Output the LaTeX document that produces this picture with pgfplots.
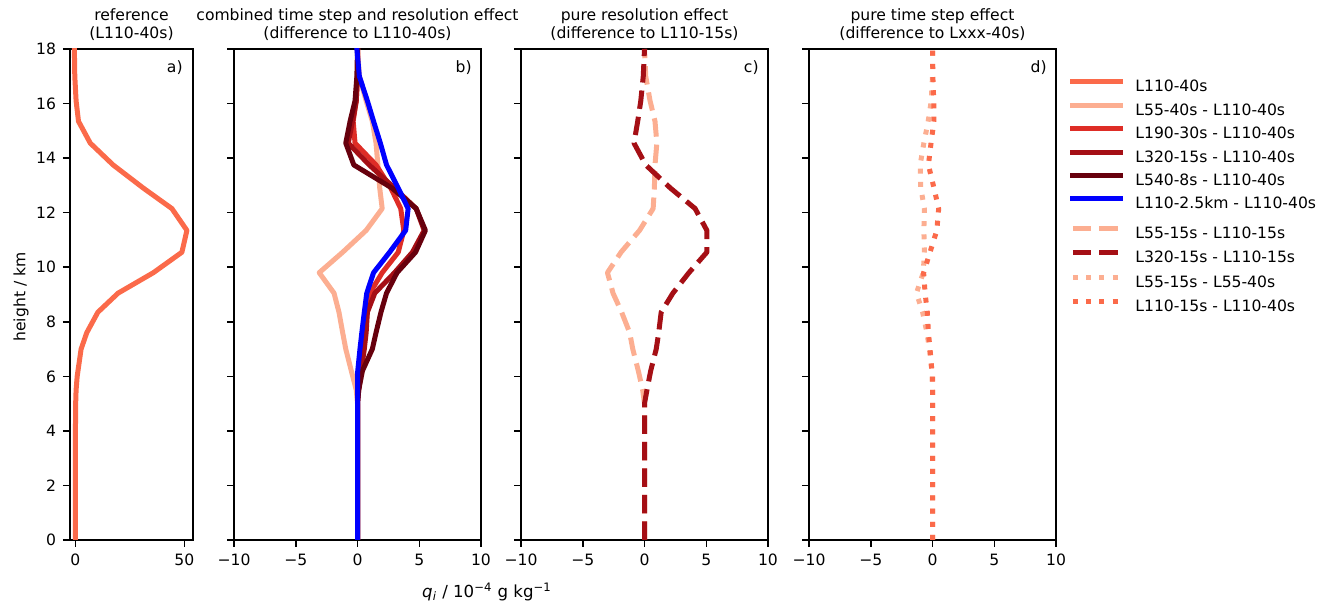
\documentclass[border=0pt]{standalone}
\usepackage{fontspec}
\setmainfont{DejaVu Sans}
\usepackage{pgfplots}
\pgfplotsset{compat=1.18}
\definecolor{cA}{HTML}{FB6A4A}
\definecolor{cB}{HTML}{FCAE91}
\definecolor{cC}{HTML}{DE2D26}
\definecolor{cD}{HTML}{A50F15}
\definecolor{cE}{HTML}{67000D}
\newcommand{\ff}{\fontsize{7.8pt}{9pt}\selectfont}
\pgfplotsset{
  panel/.style={
    scale only axis, height=245.5pt, ymin=0, ymax=18, ytick={0,2,...,18},
    anchor=south west,
    tick align=outside, tick pos=left, major tick length=3.5pt,
    every tick/.style={black, line width=0.75pt},
    axis line style={line width=0.75pt},
    tick label style={font=\ff},
    /pgf/number format/assume math mode=true,
    title style={font=\ff, align=center, at={(0.5,1)}, anchor=south, yshift=-1.75pt, inner sep=0pt},
    legend style={draw=none, fill=none, font=\ff, anchor=north west, inner sep=0pt,
      nodes={inner sep=0pt}, row sep=3.95pt, column sep=6pt},
    legend cell align=left,
    legend image code/.code={\draw[##1] (1.25pt,2.85pt) -- (25.25pt,2.85pt);},
  },
  diff/.style={panel, width=123.5pt, xmin=-10, xmax=10, xtick={-10,-5,0,5,10},
    xticklabels={−10,−5,0,5,10}, yticklabels={}},
  sol/.style={line width=2.5pt, line join=round, line cap=rect},
  dsh/.style={line width=2.5pt, line join=round, line cap=butt, dash pattern=on 9.25pt off 4pt},
  dot/.style={line width=2.5pt, line join=round, line cap=butt, dash pattern=on 2.5pt off 4.1pt},
}
\begin{document}
\begin{tikzpicture}
\useasboundingbox (0,0) rectangle (667.5pt,302.5pt);

% panel a
\begin{axis}[panel, at={(35pt,32.5pt)}, width=61.5pt, xmin=-2.5, xmax=54,
  xtick={0,50}, xticklabels={0,50}, yticklabels={0,2,4,6,8,10,12,14,16,18},
  title={reference\\(L110-40s)}]
\addplot[cA, sol] coordinates {(0,0) (0,1) (0,2) (0,3) (0,4) (0.1,5) (0.3,5.5) (0.8,6.0) (2.6,7.0) (5.2,7.6) (10.3,8.35) (19.6,9.05) (35.8,9.8) (48.9,10.55) (51.2,11.35) (44.3,12.15) (31.2,12.9) (17.3,13.75) (6.8,14.55) (1.4,15.35) (0.3,16.1) (-0.3,17) (-0.5,18)};
\node[font=\ff, anchor=base east, inner sep=0pt] at (rel axis cs:1,1) [xshift=-5pt, yshift=-11.75pt] {a)};
\end{axis}

% panel b
\begin{axis}[diff, at={(117pt,32.5pt)},
  title={combined time step and resolution effect\\(difference to L110-40s)},
  legend style={at={(3.3846,1)}, yshift=-15pt}]
\addlegendimage{cA, sol}
\addlegendentry{L110-40s}
\addplot[cB, sol] coordinates {(0,0) (0,5) (-0.1,5.5) (-0.5,6.2) (-0.95,7.0) (-1.2,7.6) (-1.5,8.35) (-1.9,9.05) (-3.1,9.8) (-1.2,10.55) (0.7,11.35) (2.0,12.15) (1.8,12.9) (1.65,13.75) (1.5,14.55) (1.2,15.35) (0.7,16.1) (0.15,17) (0,18)};
\addlegendentry{L55-40s - L110-40s}
\addplot[cC, sol] coordinates {(0,0) (0,5) (0.05,5.5) (0.15,6.2) (0.35,7.0) (0.5,7.6) (0.8,8.35) (1.0,9.05) (2.0,9.8) (3.3,10.55) (3.75,11.35) (3.5,12.15) (2.7,12.9) (1.5,13.75) (-0.2,14.55) (-0.35,15.35) (-0.1,16.1) (0,17) (0,18)};
\addlegendentry{L190-30s - L110-40s}
\addplot[cD, sol] coordinates {(0,0) (0,5) (0.1,5.5) (0.3,6.2) (0.55,7.0) (0.7,7.6) (0.8,8.35) (1.4,9.05) (3.0,9.8) (4.45,10.55) (5.4,11.35) (4.75,12.15) (3.0,12.9) (0.95,13.75) (-0.75,14.55) (-0.4,15.35) (-0.1,16.1) (0,17) (0,18)};
\addlegendentry{L320-15s - L110-40s}
\addplot[cE, sol] coordinates {(0,0) (0,5) (0.1,5.5) (0.4,6.2) (1.2,7.0) (1.5,7.6) (1.9,8.35) (2.35,9.05) (3.2,9.8) (4.7,10.55) (5.5,11.35) (4.75,12.15) (2.8,12.9) (-0.3,13.75) (-0.95,14.55) (-0.6,15.35) (-0.2,16.1) (-0.05,17) (0,18)};
\addlegendentry{L540-8s - L110-40s}
\addplot[blue, sol] coordinates {(0,0) (0,5) (0,6) (0.02,6.2) (0.2,7.0) (0.35,7.6) (0.55,8.35) (0.75,9.05) (1.3,9.8) (2.6,10.55) (3.9,11.35) (4.1,12.15) (3.3,12.9) (2.35,13.75) (1.85,14.55) (1.3,15.35) (0.8,16.1) (0.15,17) (-0.05,18)};
\addlegendentry{L110-2.5km - L110-40s}
\node[font=\ff, anchor=base east, inner sep=0pt] at (rel axis cs:1,1) [xshift=-4.5pt, yshift=-11.75pt] {b)};
\end{axis}

% panel c
\begin{axis}[diff, at={(260.5pt,32.5pt)},
  title={pure resolution effect\\(difference to L110-15s)},
  legend style={at={(2.2227,1)}, yshift=-88.5pt}]
\addplot[cB, dsh] coordinates {(0,0) (0,5) (-0.15,5.5) (-0.5,6.2) (-0.95,7.0) (-1.2,7.6) (-1.85,8.35) (-2.55,9.05) (-3.0,9.8) (-1.9,10.55) (-0.4,11.35) (0.7,12.15) (0.8,12.9) (0.85,13.75) (1.0,14.55) (0.85,15.35) (0.45,16.1) (0.1,17) (0,18)};
\addlegendentry{L55-15s - L110-15s}
\addplot[cD, dsh] coordinates {(0,0) (0,5) (0.2,5.5) (0.5,6.2) (0.95,7.0) (1.15,7.6) (1.35,8.35) (2.3,9.05) (3.6,9.8) (5.05,10.55) (5.05,11.35) (4.1,12.15) (2.1,12.9) (0.1,13.75) (-0.85,14.55) (-0.55,15.35) (-0.3,16.1) (-0.1,17) (0,18)};
\addlegendentry{L320-15s - L110-15s}
\node[font=\ff, anchor=base east, inner sep=0pt] at (rel axis cs:1,1) [xshift=-4.5pt, yshift=-11.75pt] {c)};
\end{axis}

% panel d
\begin{axis}[diff, at={(404.5pt,32.5pt)},
  title={pure time step effect\\(difference to Lxxx-40s)},
  legend style={at={(1.0567,1)}, yshift=-113pt}]
\addplot[cB, dot] coordinates {(0,0) (0,5) (0,5.5) (-0.05,6.2) (-0.25,7.0) (-0.45,7.6) (-0.8,8.35) (-1.3,9.05) (-0.75,9.8) (-0.65,10.55) (-0.7,11.35) (-0.65,12.15) (-0.95,12.9) (-1.0,13.75) (-0.7,14.55) (-0.35,15.35) (-0.1,16.1) (0,17) (0,18)};
\addlegendentry{L55-15s - L55-40s}
\addplot[cA, dot] coordinates {(0,0) (0,5) (0,6) (-0.05,6.2) (-0.2,7.0) (-0.33,7.6) (-0.42,8.35) (-0.6,9.05) (-0.72,9.8) (-0.2,10.55) (0.35,11.35) (0.5,12.15) (0.12,12.9) (-0.33,13.75) (-0.12,14.55) (0.12,15.35) (0.1,16.1) (0.03,17) (0,18)};
\addlegendentry{L110-15s - L110-40s}
\node[font=\ff, anchor=base east, inner sep=0pt] at (rel axis cs:1,1) [xshift=-4.5pt, yshift=-11.75pt] {d)};
\end{axis}

\node[font=\ff, rotate=90] at (10.5pt,154pt) {height / km};
\node[font=\fontsize{8.3pt}{9pt}\selectfont] at (243.5pt,6.5pt) {\textit{q}\textsubscript{\textit{i}} / 10\textsuperscript{−4} g kg\textsuperscript{−1}};
\end{tikzpicture}
\end{document}
